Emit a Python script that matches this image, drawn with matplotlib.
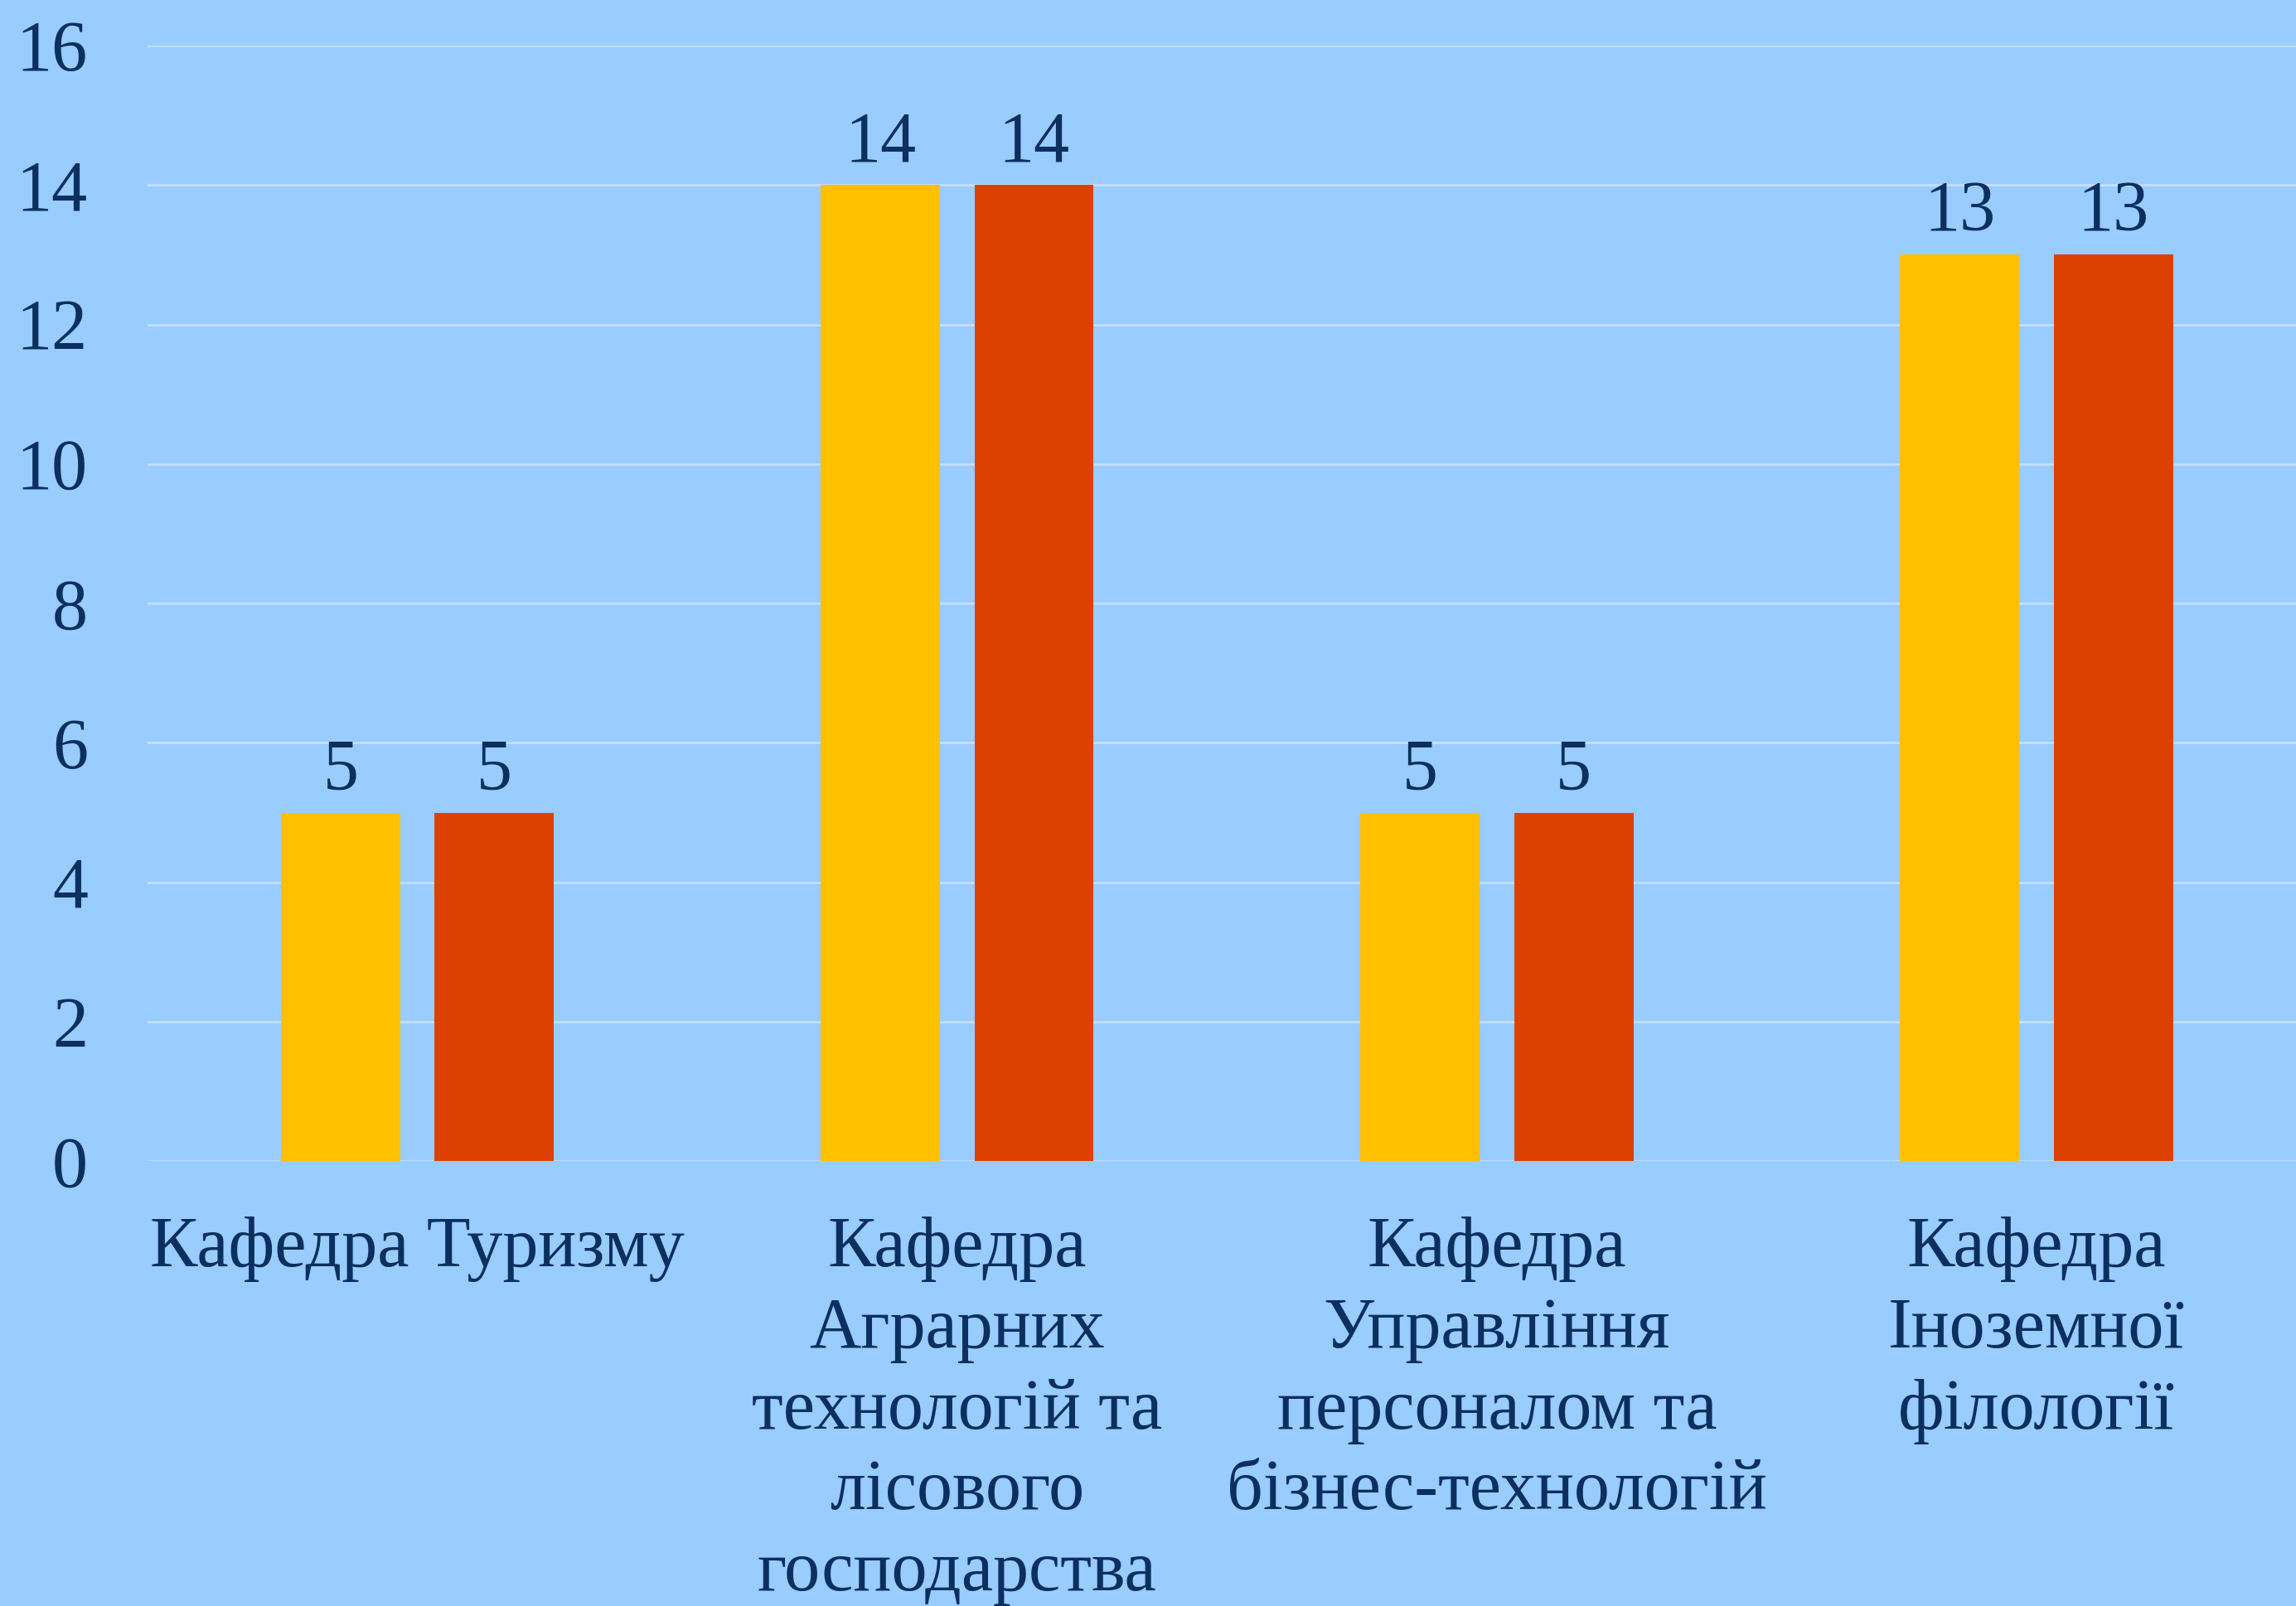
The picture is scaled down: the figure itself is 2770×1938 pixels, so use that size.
import matplotlib.pyplot as plt
import numpy as np

# data
categories = ['Кафедра Туризму',
              'Кафедра\nАграрних\nтехнологій та\nлісового\nгосподарства',
              'Кафедра\nУправління\nперсоналом та\nбізнес-технологій',
              'Кафедра\nІноземної\nфілології']
series_1 = [5, 14, 5, 13]
series_2 = [5, 14, 5, 13]
y_ticks = [0, 2, 4, 6, 8, 10, 12, 14, 16]

bg = '#99CCFF'
txt = '#0B2F5E'
plt.rcParams['font.family'] = ['Liberation Serif', 'DejaVu Serif']

fig = plt.figure(figsize=(27.7, 19.38), dpi=100, facecolor=bg)
ax = fig.add_axes([0.0643, 0.277, 0.9402, 0.6946], facecolor=bg)

x = np.arange(len(categories))
w = 0.221
off = 0.1425
b1 = ax.bar(x - off, series_1, w, color='#FFC000', zorder=3)
b2 = ax.bar(x + off, series_2, w, color='#DD4100', zorder=3)

ax.bar_label(b1, padding=7, fontsize=62, color=txt)
ax.bar_label(b2, padding=7, fontsize=62, color=txt)

ax.set_xlim(-0.5, 3.5)
ax.set_ylim(0, 16)
ax.set_yticks(y_ticks)
ax.set_xticks(x, labels=categories)
ax.yaxis.grid(True, color='#C4E0FF', linewidth=2, zorder=0)
ax.set_axisbelow(True)
for s in ax.spines.values():
    s.set_visible(False)
ax.tick_params(axis='y', length=0, pad=52, labelsize=62, labelcolor=txt)
ax.tick_params(axis='x', length=0, pad=48, labelsize=62, labelcolor=txt)
for t in ax.get_xticklabels():
    t.set_linespacing(1.3)

fig.savefig('out.png', dpi=100, facecolor=bg)
